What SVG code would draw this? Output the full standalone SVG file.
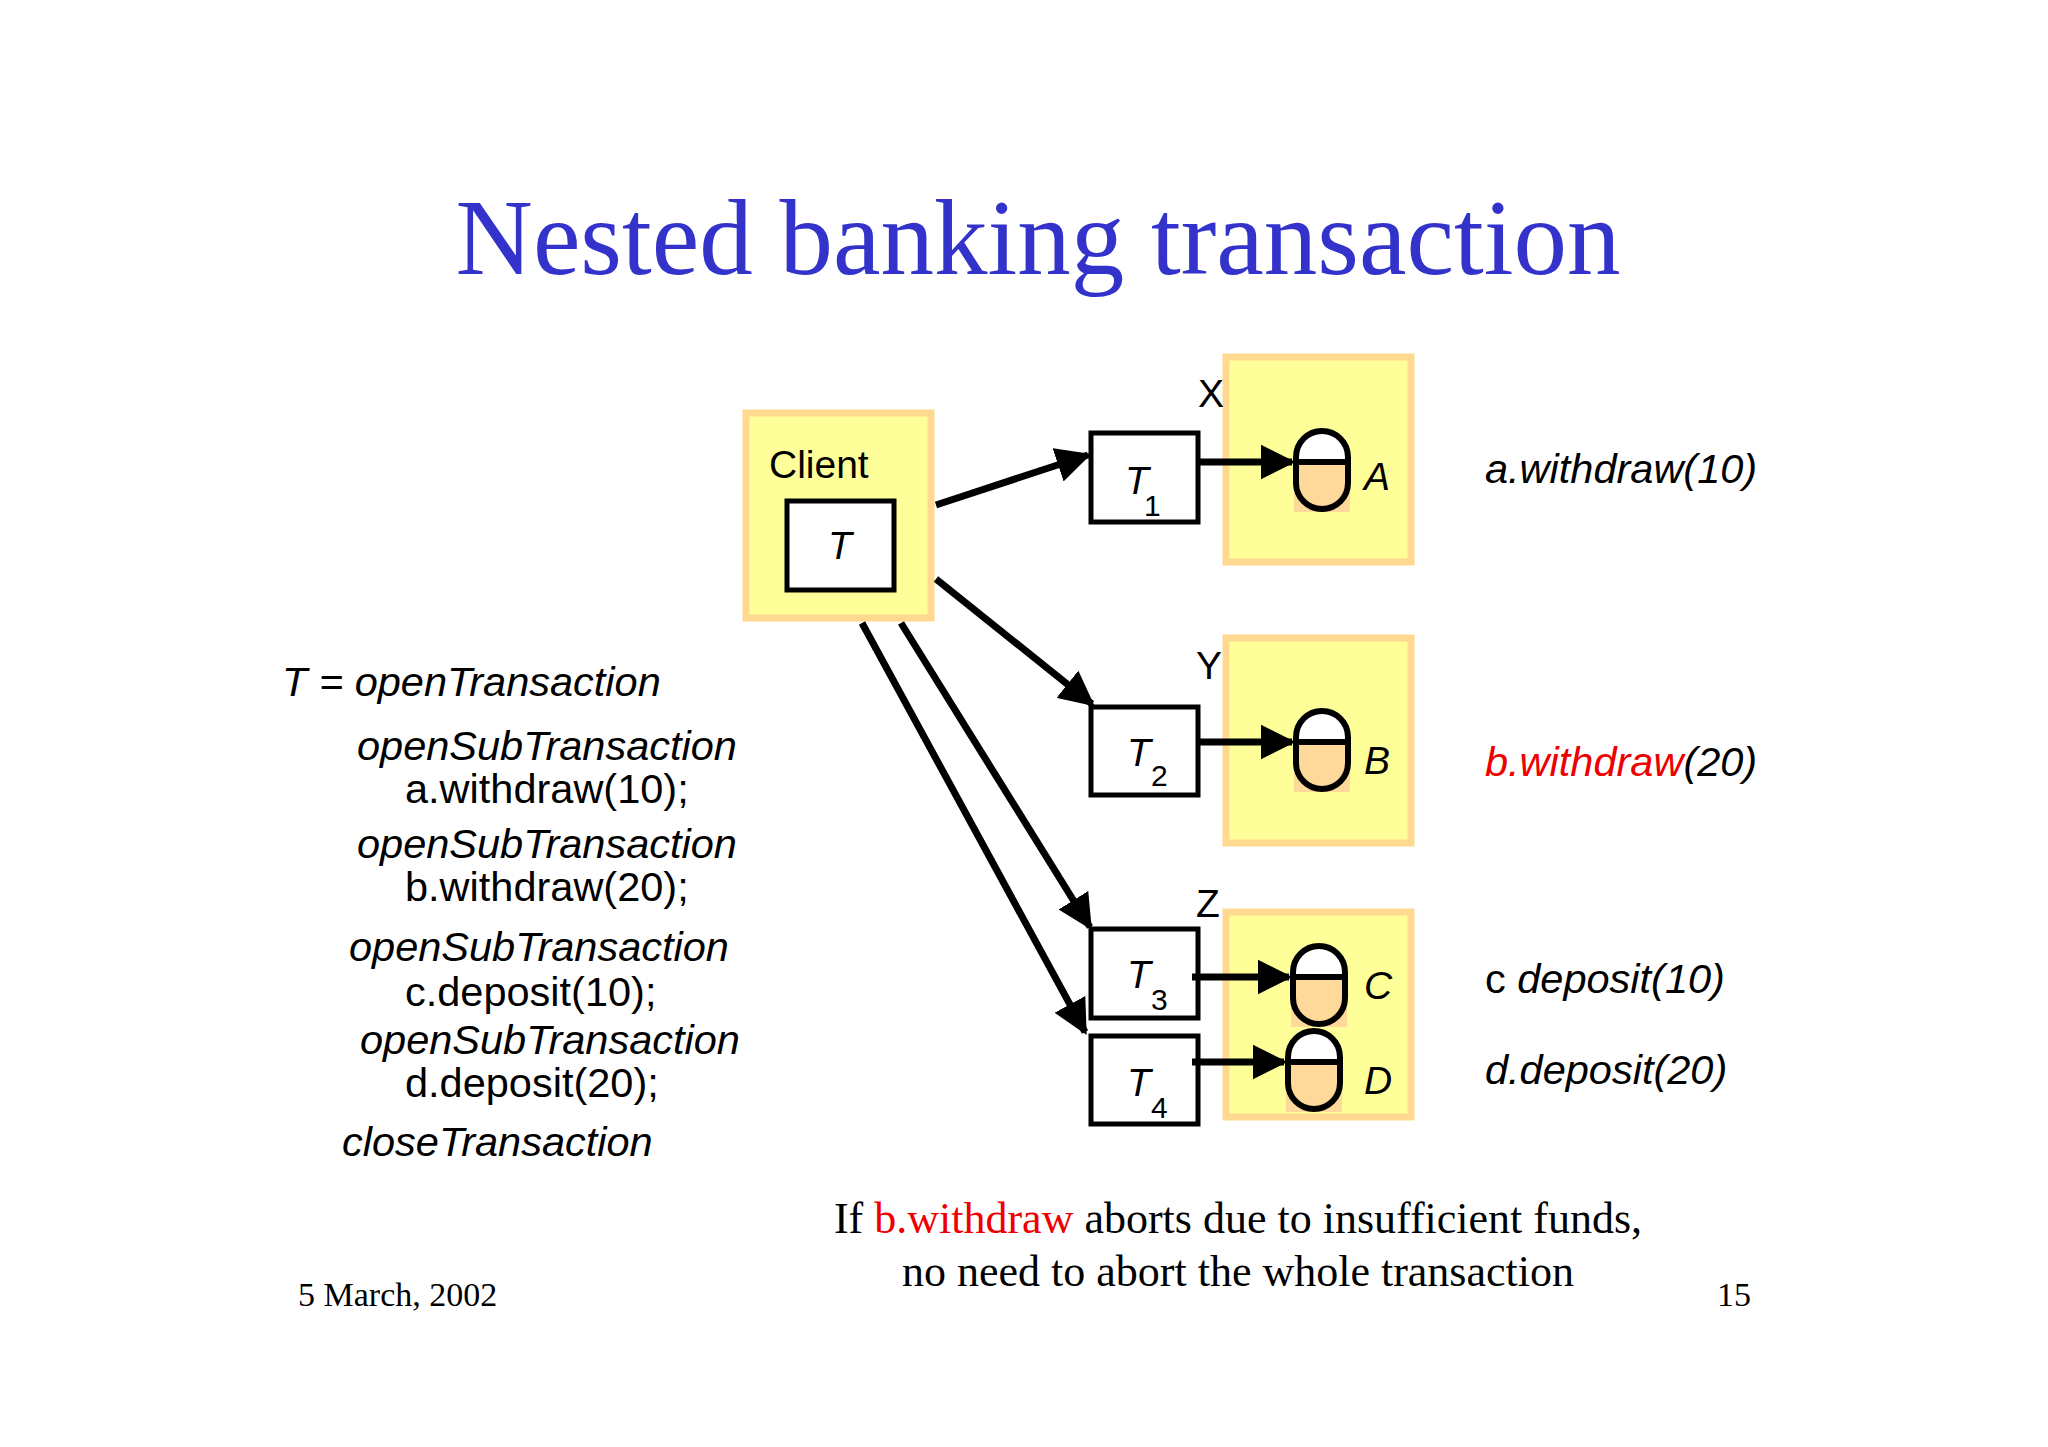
<svg xmlns="http://www.w3.org/2000/svg" width="2048" height="1447" viewBox="0 0 2048 1447">
<style>
.sv{fill:#ffff99;stroke:#ffd98f;stroke-width:7}
.tb{fill:#fff;stroke:#000;stroke-width:5}
.s{font-family:"Liberation Sans",Arial,sans-serif;fill:#000}
.i{font-style:italic}
.r{font-family:"Liberation Serif","Times New Roman",serif;fill:#000}
.c{stroke:#000;stroke-width:7;fill:none;marker-end:url(#ah)}
.cyl{stroke:#000;stroke-width:6}
</style>
<defs>
<marker id="ah" markerWidth="5" markerHeight="5" refX="4.5" refY="2.5" orient="auto" markerUnits="strokeWidth"><path d="M0,0 L5,2.5 L0,5 z" fill="#000"/></marker>
<g id="cy">
<rect x="-28" y="0" width="56" height="50" fill="#ffd99a"/>
<path d="M-26,-5 A26,26 0 0 1 26,-5 V0 H-26 Z" fill="#fff"/>
<path d="M-26,21 V-5 A26,26 0 0 1 26,-5 V21 A26,26 0 0 1 -26,21 Z" fill="none" class="cyl"/>
<line x1="-26" y1="0" x2="26" y2="0" class="cyl"/>
</g>
</defs>
<rect width="2048" height="1447" fill="#fff"/>
<text x="1038" y="274" text-anchor="middle" font-family="Liberation Serif,serif" font-size="107" fill="#3333cc">Nested banking transaction</text>

<g id="client">
<rect x="746" y="413" width="185" height="205" class="sv"/>
<text x="769" y="478" class="s" font-size="39">Client</text>
<rect x="787" y="501" width="107" height="89" class="tb"/>
<text x="840" y="559" class="s i" font-size="39" text-anchor="middle">T</text>
</g>
<g id="X">
<rect x="1226" y="357" width="185" height="205" class="sv"/>
<text x="1198" y="407" class="s" font-size="39">X</text>
<use href="#cy" x="1322" y="462"/>
<text x="1364" y="490" class="s i" font-size="39">A</text>
</g>
<g id="Y">
<rect x="1226" y="638" width="185" height="205" class="sv"/>
<text x="1196" y="679" class="s" font-size="39">Y</text>
<use href="#cy" x="1322" y="742"/>
<text x="1364" y="774" class="s i" font-size="39">B</text>
</g>
<g id="Z">
<rect x="1226" y="912" width="185" height="205" class="sv"/>
<text x="1196" y="917" class="s" font-size="39">Z</text>
<use href="#cy" x="1319" y="977"/>
<use href="#cy" x="1314" y="1062"/>
<text x="1364" y="999" class="s i" font-size="39">C</text>
<text x="1364" y="1094" class="s i" font-size="39">D</text>
</g>
<g id="T1"><rect x="1091" y="433" width="107" height="89" class="tb"/><text x="1125" y="494" class="s i" font-size="39">T</text><text x="1144" y="516" class="s" font-size="30">1</text></g>
<g id="T2"><rect x="1091" y="707" width="107" height="88" class="tb"/><text x="1127" y="766" class="s i" font-size="39">T</text><text x="1151" y="786" class="s" font-size="30">2</text></g>
<g id="T3"><rect x="1091" y="929" width="107" height="89" class="tb"/><text x="1127" y="988" class="s i" font-size="39">T</text><text x="1151" y="1010" class="s" font-size="30">3</text></g>
<g id="T4"><rect x="1091" y="1036" width="107" height="88" class="tb"/><text x="1127" y="1096" class="s i" font-size="39">T</text><text x="1151" y="1118" class="s" font-size="30">4</text></g>

<g id="connectors">
<line x1="936" y1="505" x2="1088" y2="455" class="c"/>
<line x1="936" y1="579" x2="1092" y2="704" class="c"/>
<line x1="901" y1="623" x2="1090" y2="927" class="c"/>
<line x1="862" y1="623" x2="1085" y2="1032" class="c"/>
<line x1="1198" y1="462" x2="1292" y2="462" class="c"/>
<line x1="1198" y1="742" x2="1292" y2="742" class="c"/>
<line x1="1192" y1="977" x2="1289" y2="977" class="c"/>
<line x1="1192" y1="1062" x2="1284" y2="1062" class="c"/>
</g>

<g id="right-labels" class="s" font-size="41.5">
<text x="1485" y="483" class="i">a.withdraw(10)</text>
<text x="1485" y="776" class="i"><tspan fill="#e00">b.withdraw</tspan>(20)</text>
<text x="1485" y="993">c <tspan class="i">deposit(10)</tspan></text>
<text x="1485" y="1084" class="i">d.deposit(20)</text>
</g>
<g id="code" class="s" font-size="41.5">
<text x="282" y="696" class="i">T = openTransaction</text>
<text x="357" y="760" class="i">openSubTransaction</text>
<text x="405" y="803">a.withdraw(10);</text>
<text x="357" y="858" class="i">openSubTransaction</text>
<text x="405" y="901">b.withdraw(20);</text>
<text x="349" y="961" class="i">openSubTransaction</text>
<text x="405" y="1006">c.deposit(10);</text>
<text x="360" y="1054" class="i">openSubTransaction</text>
<text x="405" y="1097">d.deposit(20);</text>
<text x="342" y="1156" class="i">closeTransaction</text>
</g>
<g id="footer" class="r">
<text x="1238" y="1233" font-size="44" text-anchor="middle">If <tspan fill="#e00">b.withdraw</tspan> aborts due to insufficient funds,</text>
<text x="1238" y="1286" font-size="44" text-anchor="middle">no need to abort the whole transaction</text>
<text x="298" y="1306" font-size="34">5 March, 2002</text>
<text x="1717" y="1306" font-size="34">15</text>
</g>
</svg>
